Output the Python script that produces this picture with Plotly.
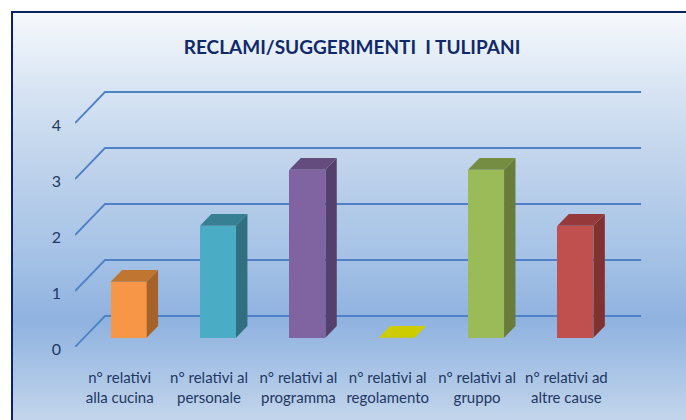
import plotly.graph_objects as go

title = "RECLAMI/SUGGERIMENTI  I TULIPANI"
categories = ["n° relativi<br>alla cucina", "n° relativi al<br>personale", "n° relativi al<br>programma",
              "n° relativi al<br>regolamento", "n° relativi al<br>gruppo", "n° relativi ad<br>altre cause"]
values = [1, 2, 3, 0, 3, 2]
y_ticks = [0, 1, 2, 3, 4]
front_colors = ["#F79646", "#4BACC6", "#8064A2", "#CCCC00", "#9BBB59", "#C0504D"]
side_colors = ["#A5632A", "#2F6F80", "#553F6D", "#A8A800", "#687D3A", "#7F322F"]
top_colors = ["#C07530", "#378094", "#644C7E", "#CCCC00", "#748D42", "#95393A"]

W, H = 686, 420
L, R, T, B = 75, 650, 80, 347         # plot window in pixels
FRAME = 12
x_unit, y_unit = 89.35, 56            # pixels per category / per value
depth_x, depth_y = 30 / x_unit, 31 / y_unit   # floor depth in data units
d0, d1 = 0.30, 0.68                   # bar front/back position in the depth
bar_w = 36 / x_unit
FONT = "Lato"
INK = "#1F3864"
GRID = "#4F81C7"

xr = [-0.5, -0.5 + (R - L) / x_unit]
yr = [0, (B - T) / y_unit]

fig = go.Figure()

# background panel with gradient (pixel-like helper axes)
fig.add_trace(go.Scatter(
    x=[FRAME, W, W, FRAME, FRAME], y=[0, 0, H - FRAME, H - FRAME, 0], mode="lines", fill="toself",
    line=dict(width=0), hoverinfo="skip", showlegend=False,
    fillgradient=dict(type="vertical", colorscale=[
        [0.0, "#C3D5EB"], [0.12, "#A9C4E6"], [0.245, "#8FB2DF"], [0.4, "#A5C2E6"],
        [0.6, "#BCD1EB"], [0.8, "#D6E3F3"], [1.0, "#F6F9FC"]]),
    xaxis="x", yaxis="y"))
fig.add_trace(go.Scatter(
    x=[FRAME, FRAME, W], y=[0, H - FRAME, H - FRAME], mode="lines",
    line=dict(color="#0B2265", width=2), hoverinfo="skip", showlegend=False,
    xaxis="x", yaxis="y"))

# perspective gridlines
for v in y_ticks:
    fig.add_trace(go.Scatter(
        x=[-0.5, -0.5 + depth_x, 5.5 + depth_x],
        y=[v, v + depth_y, v + depth_y],
        mode="lines", line=dict(color=GRID, width=1.8), hoverinfo="skip",
        showlegend=False, cliponaxis=False, xaxis="x2", yaxis="y2"))

# front faces
fig.add_trace(go.Bar(
    x=[i + d0 * depth_x for i in range(len(values))], y=values,
    base=[d0 * depth_y] * len(values), width=bar_w,
    marker=dict(color=front_colors, line=dict(width=0)),
    hoverinfo="skip", showlegend=False, xaxis="x3", yaxis="y3"))

# side and top faces
for i, v in enumerate(values):
    x0, x1 = i + d0 * depth_x - bar_w / 2, i + d0 * depth_x + bar_w / 2
    dx, dy = (d1 - d0) * depth_x, (d1 - d0) * depth_y
    b = d0 * depth_y
    if v > 0:
        fig.add_trace(go.Scatter(
            x=[x1, x1 + dx, x1 + dx, x1, x1], y=[b, b + dy, b + dy + v, b + v, b],
            mode="lines", fill="toself", fillcolor=side_colors[i], line=dict(width=0),
            hoverinfo="skip", showlegend=False, xaxis="x3", yaxis="y3"))
    fig.add_trace(go.Scatter(
        x=[x0, x1, x1 + dx, x0 + dx, x0], y=[b + v, b + v, b + v + dy, b + v + dy, b + v],
        mode="lines", fill="toself", fillcolor=top_colors[i], line=dict(width=0),
        hoverinfo="skip", showlegend=False, xaxis="x3", yaxis="y3"))

hidden = dict(visible=False, fixedrange=True, automargin=False)
x_domain = [L / W, R / W]
y_domain = [(H - B) / H, (H - T) / H]
fig.update_layout(
    width=W, height=H, margin=dict(l=0, r=0, t=0, b=0, pad=0, autoexpand=False), autosize=False,
    paper_bgcolor="white", plot_bgcolor="rgba(0,0,0,0)", showlegend=False,
    bargap=0,
    font=dict(family=FONT, color=INK),
    title=dict(text=f"<b>{title}</b>", x=352 / W, y=1 - 47 / H,
               xanchor="center", yanchor="middle", automargin=False,
               font=dict(family=FONT, size=19, color="#10296B")),
    xaxis=dict(domain=[0, 1], range=[0, W], **hidden),
    yaxis=dict(domain=[0, 1], range=[0, H], **hidden),
    xaxis2=dict(domain=x_domain, range=xr, anchor="y2", tickmode="array", automargin=False,
                tickvals=list(range(len(categories))), ticktext=categories,
                showgrid=False, showline=False, zeroline=False, ticks="", fixedrange=True,
                ticklabelstandoff=20,
                tickangle=0, tickfont=dict(family=FONT, size=15, color=INK)),
    yaxis2=dict(domain=y_domain, range=yr, anchor="x2", tickmode="array", automargin=False,
                tickvals=y_ticks, ticktext=[str(t) for t in y_ticks],
                showgrid=False, showline=False, zeroline=False, ticks="", fixedrange=True,
                ticklabelstandoff=13, ticklabelshift=2,
                tickfont=dict(family=FONT, size=16, color=INK)),
    xaxis3=dict(range=xr, overlaying="x2", anchor="y3", **hidden),
    yaxis3=dict(range=yr, overlaying="y2", anchor="x3", **hidden),
)

fig.write_html("out.html", config=dict(displayModeBar=False),
               post_script="document.body.style.margin='0';")
